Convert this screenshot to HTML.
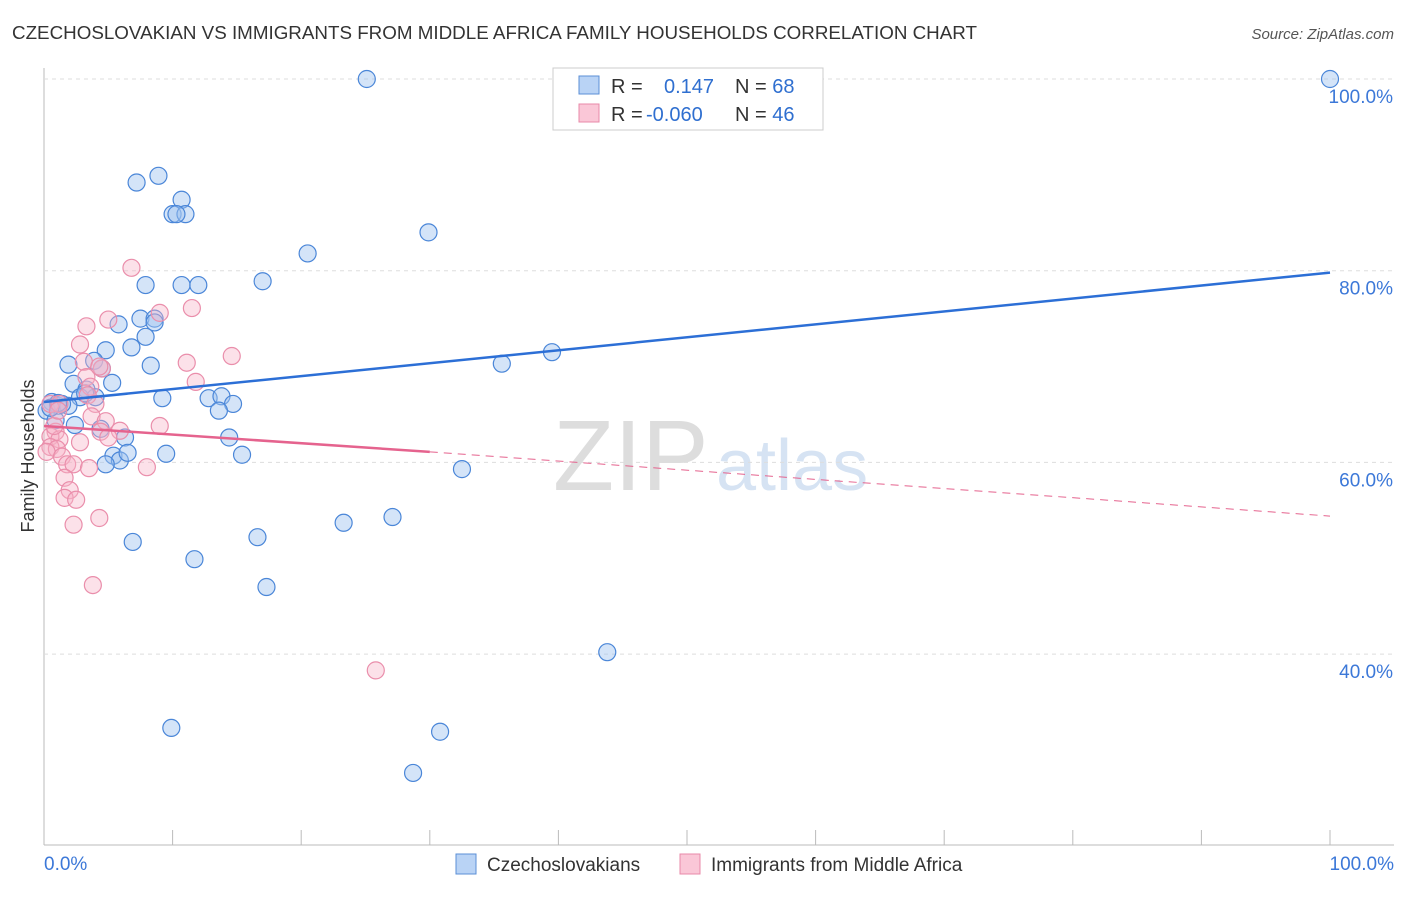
<!DOCTYPE html>
<html><head><meta charset="utf-8"><style>
body{margin:0;background:#fff;font-family:"Liberation Sans",sans-serif;}
svg text{font-family:"Liberation Sans",sans-serif;}
</style></head><body>
<svg id="c" width="1406" height="892">
<text x="12" y="39" font-size="18" fill="#333" textLength="965" lengthAdjust="spacingAndGlyphs">CZECHOSLOVAKIAN VS IMMIGRANTS FROM MIDDLE AFRICA FAMILY HOUSEHOLDS CORRELATION CHART</text>
<text x="1394" y="39" font-size="15" fill="#555" text-anchor="end" font-style="italic">Source: ZipAtlas.com</text>
<text x="553" y="490" font-size="100" fill="#ddd" font-family="Liberation Serif">ZIP</text>
<text x="716" y="490" font-size="72" fill="#d6e3f3">atlas</text>
<g id="grid"></g><g id="pts"></g><g id="lines"></g>
<text transform="translate(34,456) rotate(-90)" font-size="18" fill="#333" text-anchor="middle">Family Households</text>
<g>
<rect x="553" y="68" width="270" height="62" fill="#fff" stroke="#ccc"/>
<rect x="579" y="76" width="20" height="18" fill="#b9d3f5" stroke="#5b8fd6"/>
<rect x="579" y="104" width="20" height="18" fill="#fac7d7" stroke="#e88aa8"/>
<text x="611" y="93" font-size="20" fill="#333">R = <tspan fill="#2f6fd0" x="664">0.147</tspan><tspan fill="#333" x="735">N = </tspan><tspan fill="#2f6fd0">68</tspan></text>
<text x="611" y="121" font-size="20" fill="#333">R = <tspan fill="#2f6fd0" x="646">-0.060</tspan><tspan fill="#333" x="735">N = </tspan><tspan fill="#2f6fd0">46</tspan></text>
</g>
<g>
<rect x="456" y="854" width="20" height="20" fill="#b9d3f5" stroke="#5b8fd6"/>
<text x="487" y="871" font-size="19" fill="#333">Czechoslovakians</text>
<rect x="680" y="854" width="20" height="20" fill="#fac7d7" stroke="#e88aa8"/>
<text x="711" y="871" font-size="19" fill="#333">Immigrants from Middle Africa</text>
</g>
</svg>
<script>
const xTicks=[0,10,20,30,40,50,60,70,80,90,100];
const yTicks=[40,60,80,100];
const blueX=[25.1,100,8.9,7.2,10.7,10,11,10.3,29.9,20.5,17,7.9,10.7,12,5.8,7.5,8.6,8.6,7.9,6.8,4.8,3.9,1.9,8.3,35.6,39.5,4.5,2.3,5.3,3.3,4.0,2.8,9.2,12.8,13.8,14.7,13.6,0.6,1.1,1.9,1.4,0.2,2.4,4.4,6.3,14.4,5.4,5.9,6.5,9.5,15.4,4.8,32.5,27.1,23.3,16.6,6.9,11.7,17.3,43.8,9.9,30.8,28.7,0.9,1.1,3.2,0.5];
const blueY=[100,100,89.9,89.2,87.4,85.9,85.9,85.9,84.0,81.8,78.9,78.5,78.5,78.5,74.4,75.0,75.0,74.6,73.1,72.0,71.7,70.6,70.2,70.1,70.3,71.5,69.8,68.2,68.3,67.6,66.8,66.8,66.7,66.7,66.9,66.1,65.4,66.3,65.9,65.9,66.1,65.4,63.9,63.5,62.6,62.6,60.7,60.2,61.0,60.9,60.8,59.8,59.3,54.3,53.7,52.2,51.7,49.9,47.0,40.2,32.3,31.9,27.6,64.4,66.2,67.2,65.7];
const pinkX=[6.8,11.5,9,5,3.3,2.8,14.6,11.1,3.1,11.8,4.5,3.3,4.3,3.6,3.4,4.0,0.5,1.2,3.7,4.8,9,5.9,4.4,0.9,0.5,5,2.8,1.2,0.5,1,0.2,1.4,1.8,2.3,3.5,8,1.6,2,1.6,2.5,4.3,2.3,3.8,25.8,0.8,1.1];
const pinkY=[80.3,76.1,75.6,74.9,74.2,72.3,71.1,70.4,70.5,68.4,69.8,68.9,70.0,67.9,67.0,66.1,66.1,66.1,64.8,64.3,63.8,63.3,63.2,63.2,62.7,62.6,62.1,62.4,61.6,61.4,61.1,60.6,59.8,59.8,59.4,59.5,58.4,57.1,56.3,56.1,54.2,53.5,47.2,38.3,63.8,65.4];
const blueLine=[66.3,79.8];
const pinkLine=[63.8,61.1,54.4];
const X=v=>44+v*12.86, Y=v=>79+(100-v)*9.585;
const ns="http://www.w3.org/2000/svg";
function mk(t,a,p){const e=document.createElementNS(ns,t);for(const k in a)e.setAttribute(k,a[k]);p.appendChild(e);return e;}
const g=document.getElementById('grid');
mk('line',{x1:44,y1:68,x2:44,y2:845,stroke:'#bbb'},g);
mk('line',{x1:44,y1:845,x2:1394,y2:845,stroke:'#bbb'},g);
yTicks.forEach(v=>{const l=mk('line',{x1:44,y1:Y(v),x2:1394,y2:Y(v),stroke:'#ddd','stroke-dasharray':'4,4'},g);


const t=mk('text',{x:1393,y:Y(v)+24,'font-size':19,fill:'#3c78d8','text-anchor':'end'},g);t.textContent=v.toFixed(1)+'%';

});
xTicks.forEach(v=>{const l=mk('line',{x1:X(v),y1:830,x2:X(v),y2:845,stroke:'#bbb'},g);

});
[[0,'start',44],[100,'end',1394]].forEach(([v,a,x])=>{const t=mk('text',{x:x,y:870,'font-size':19,fill:'#3c78d8','text-anchor':a},g);t.textContent=v.toFixed(1)+'%';

});
const p=document.getElementById('pts');
blueX.forEach((v,i)=>{const c=mk('circle',{cx:X(v),cy:Y(blueY[i]),r:8.5,fill:'rgba(160,196,240,0.45)',stroke:'#4a86d8','stroke-width':1.2},p);

});
pinkX.forEach((v,i)=>{const c=mk('circle',{cx:X(v),cy:Y(pinkY[i]),r:8.5,fill:'rgba(248,180,200,0.4)',stroke:'#ea8eab','stroke-width':1.2},p);

});
const L=document.getElementById('lines');
const b=mk('line',{x1:X(0),y1:Y(blueLine[0]),x2:X(100),y2:Y(blueLine[1]),stroke:'#2c6fd6','stroke-width':2.5},L);


const s=mk('line',{x1:X(0),y1:Y(pinkLine[0]),x2:X(30),y2:Y(pinkLine[1]),stroke:'#e5638e','stroke-width':2.5},L);


const d=mk('line',{x1:X(30),y1:Y(pinkLine[1]),x2:X(100),y2:Y(pinkLine[2]),stroke:'#e5638e','stroke-width':1,'stroke-dasharray':'8,6'},L);


</script>
</body></html>
